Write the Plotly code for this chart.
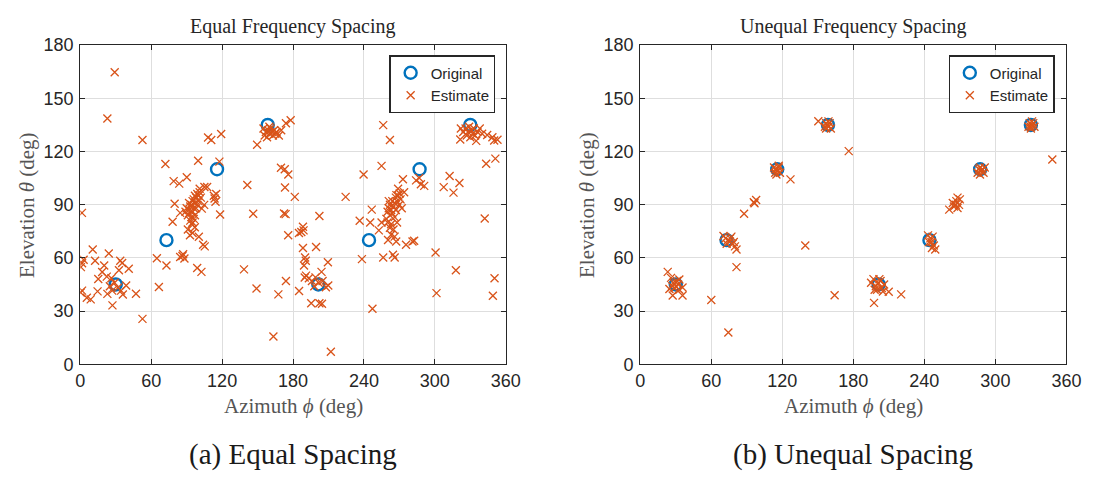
import plotly.graph_objects as go

# True source directions (same set for both spacings)
src_az = [30, 72.9, 115.7, 158.6, 201.4, 244.3, 287.1, 330]
src_el = [45, 70, 110, 135, 45, 70, 110, 135]

# Estimated directions, equal frequency spacing
eq_pts = [
    (1.4, 85.4), (10.5, 64.7), (2.8, 58.9), (0.5, 54.8), (1.5, 57.0), (12.5, 58.4), (24.1, 62.5),
    (20.2, 55.7), (33.8, 58.4), (35.4, 57.1), (41.0, 53.9), (32.7, 53.0), (15.2, 48.1), (22.4, 49.4),
    (26.3, 48.5), (0.3, 40.4), (1.5, 41.5), (5.5, 37.5), (8.8, 36.6), (14.6, 41.1), (22.9, 39.7),
    (27.2, 33.2), (31.8, 43.1), (36.0, 39.3), (38.8, 44.4), (34.5, 41.5), (29, 46), (47.1, 39.8),
    (52.6, 25.6), (18.5, 52), (27, 41.5), (25, 44),
    (29.1, 164.7), (22.9, 138.6), (52.6, 126.5),
    (64.8, 59.8), (66.5, 43.6), (72.9, 55.7), (72.0, 113.0), (78.1, 80.4), (79.8, 90.5), (84.5, 85.4),
    (86.4, 61.1), (88.1, 59.6), (84.5, 60.5), (87, 62), (79.0, 103.3), (83.7, 101.9), (90.1, 105.5),
    (99.7, 114.8), (108.1, 127.9), (110.8, 126.5), (119.2, 129.9), (117.7, 114.3), (118.3, 84.5),
    (114.4, 91.7), (113.6, 93.5), (104.8, 89.9), (98.9, 54.3), (102.5, 52.1), (103.9, 67.4),
    (105.3, 66.5), (100.3, 71.9), (92.8, 72.8), (96.9, 77.3), (94.2, 79.1), (95.0, 80.0), (92.2, 85.4),
    (113, 95), (115, 96), (105, 100), (101, 99), (97, 95), (107.3, 100), (102.8, 87.8),
    (89, 86), (90, 88), (91, 84), (92, 87), (93, 89), (94, 90), (95, 92), (96, 93), (97, 91), (98, 94),
    (99, 96), (100, 95), (96, 88), (95, 86), (94, 83), (93, 81), (97, 84), (98, 88), (99, 90),
    (100, 92), (101, 97), (102, 94), (91, 76), (95, 74), (96, 82), (92, 91),
    (141.3, 101.1), (146.3, 84.9), (138.5, 53.5), (149.6, 123.8), (149.1, 42.7), (167.6, 39.4),
    (163.4, 15.6), (169.8, 110.8), (173.0, 110.0), (176.0, 107.0), (173.2, 99.7), (172.4, 85.0),
    (173.7, 84.7), (175.9, 72.8), (174.0, 47.0), (181.5, 94.4), (174.0, 135.9), (178.0, 137.6),
    (155, 133), (157, 131), (159, 132), (160, 130), (161, 133), (162, 131), (163, 129), (164, 132),
    (165, 130), (166, 131), (168, 129), (158, 128), (160, 134), (170, 132), (156, 129),
    (188.4, 77.6), (188.9, 75.5), (187, 74.6), (185, 74), (188.4, 65.6), (199.5, 66.1), (190.2, 60.2),
    (190.8, 58.4), (189.3, 55.7), (209.5, 57.5), (202.3, 83.6), (193.4, 48.5), (189.9, 48.9),
    (204.1, 52.1), (207.8, 43.4), (209.8, 44.4), (201.7, 46.0), (185.1, 41.3), (195.4, 34.4),
    (202.3, 34.4), (204.5, 34.1), (212.0, 7.0), (224.5, 94.4), (191, 50), (196, 47), (198, 44),
    (205, 47), (199, 49),
    (236.4, 80.9), (245.3, 80.0), (246.6, 87.2), (254.9, 80.0), (238.3, 59.3), (256.3, 60.2),
    (264.6, 61.8), (266.0, 60.2), (260.4, 70.1), (267.3, 69.2), (275.6, 67.4), (281.1, 69.2),
    (282.5, 69.7), (252.6, 75.5), (247.2, 31.3), (239.7, 107.0), (254.9, 111.9), (256.3, 134.9),
    (262.0, 126.5), (273.0, 104.4), (268.9, 99.0), (267.5, 95.4), (270.2, 96.3), (286.8, 105.1),
    (288.2, 101.5), (291.0, 100.6), (284.1, 103.7), (300.6, 63.0), (301.4, 40.1),
    (259, 82), (260, 86), (261, 88), (262, 84), (262, 90), (263, 87), (263, 79), (264, 92), (264, 85),
    (265, 89), (265, 76), (266, 91), (266, 83), (267, 94), (267, 87), (268, 92), (268, 80), (269, 95),
    (270, 90), (271, 93), (262, 77), (260, 80), (272, 88), (274, 97), (261, 92), (263, 73), (266, 72),
    (312.5, 106.2), (320.8, 102.2), (315.8, 96.8), (307.5, 99.9), (317.8, 53.0), (342.2, 82.2),
    (350.5, 48.5), (349.1, 38.6), (343.4, 113.1), (351.2, 116.0), (321.5, 126.8),
    (344.3, 129.3), (348.7, 128.0), (350.2, 126.2), (353.0, 126.6),
    (322, 133), (324, 131), (326, 133), (328, 131), (329, 134), (331, 132), (332, 130), (333, 133),
    (334, 129), (336, 131), (338, 133), (330, 128), (335, 126), (327, 129), (340, 130),
]
eq_az = [p[0] for p in eq_pts]
eq_el = [p[1] for p in eq_pts]

# Estimated directions, unequal frequency spacing
uneq_pts = [
    (23.2, 52.1), (26.0, 48.7), (27.4, 38.8), (35.7, 38.8), (35.7, 43.3), (33.0, 47.8), (24.6, 42.4),
    (28, 46), (30, 44), (32, 45), (29, 43), (31, 47), (27, 44), (33, 42),
    (70.3, 72.3), (80.0, 66.5), (81.3, 64.7), (75.8, 69.2), (72, 71), (74, 70), (76, 71), (78, 68),
    (73, 68), (77, 72), (79, 69), (81.3, 54.8), (74.4, 17.9), (60.0, 36.2),
    (87.7, 84.9), (96.5, 90.8), (97.9, 92.6), (95.9, 91.4),
    (113, 111), (114, 108), (115, 110), (116, 109), (117, 111), (118, 108), (115, 107), (117, 112),
    (114, 110), (126.9, 104.3),
    (139.4, 67.0),
    (150.4, 137.1), (156, 134), (157, 136), (158, 135), (159, 134), (160, 136), (161, 133), (157, 133),
    (159, 137),
    (164.2, 38.9), (176.1, 120.2),
    (195, 46), (197, 48), (199, 44), (201, 46), (203, 47), (204, 43), (206, 45), (198, 42), (200, 42),
    (202, 48), (205, 41), (209.9, 40.9), (220.4, 39.4), (197.5, 34.6),
    (243.1, 72.7), (245, 71), (246, 69), (247, 72), (249.2, 64.7), (246.4, 65.6), (248, 67), (244, 69),
    (261.0, 87.2), (265, 89), (266.5, 90), (268.0, 88.1), (269.3, 89.9), (267, 92), (268, 94), (270, 93),
    (264, 91),
    (285, 108), (286, 110), (287, 111), (288, 109), (289, 110), (290, 108), (287, 107), (291, 111),
    (328, 134), (329, 136), (330, 134), (331, 135), (332, 136), (330, 133), (331, 137), (333, 134),
    (348.1, 115.5),
]
uneq_az = [p[0] for p in uneq_pts]
uneq_el = [p[1] for p in uneq_pts]

az_ticks = [0, 60, 120, 180, 240, 300, 360]
el_ticks = [0, 30, 60, 90, 120, 150, 180]

BLUE = "#0072BD"
ORANGE = "#D95319"
W, H = 1103, 478

fig = go.Figure()


def add_panel(xa, ya, est_az, est_el, legend_name):
    fig.add_trace(go.Scatter(
        x=src_az, y=src_el, mode="markers", name="Original",
        xaxis=xa, yaxis=ya, legend=legend_name,
        marker=dict(symbol="circle-open", size=12, color=BLUE, line=dict(width=2.4, color=BLUE)),
    ))
    fig.add_trace(go.Scatter(
        x=est_az, y=est_el, mode="markers", name="Estimate",
        xaxis=xa, yaxis=ya, legend=legend_name,
        marker=dict(symbol="x-thin-open", size=8, color=ORANGE, line=dict(width=1.3, color=ORANGE)),
    ))


add_panel("x", "y", eq_az, eq_el, "legend")
add_panel("x2", "y2", uneq_az, uneq_el, "legend2")

# Plot-area placement in pixels
left_px = [(76.7, 510.0), (647.0, 1081.0)]
top_px, bot_px = 36.7, 369.7

axis_common = dict(
    showline=True, linecolor="#262626", linewidth=1.2, mirror="ticks",
    ticks="inside", ticklen=5, tickwidth=1, tickcolor="#262626",
    showgrid=True, gridcolor="#dedede", gridwidth=1, zeroline=False,
    tickfont=dict(family="Liberation Sans, Arial", size=18, color="#262626"),
)

layout_axes = {}
for i, (l, r) in enumerate(left_px):
    sfx = "" if i == 0 else str(i + 1)
    layout_axes["xaxis" + sfx] = dict(
        axis_common, domain=[l / W, r / W], range=[0, 360], tickvals=az_ticks,
        anchor="y" + sfx,
    )
    layout_axes["yaxis" + sfx] = dict(
        axis_common, domain=[1 - bot_px / H, 1 - top_px / H], range=[0, 180], tickvals=el_ticks,
        anchor="x" + sfx, ticklabelstandoff=2,
    )

legend_common = dict(
    bgcolor="white", bordercolor="#262626", borderwidth=1.2,
    font=dict(family="Liberation Sans, Arial", size=15, color="#262626"),
    xanchor="right", yanchor="top", tracegroupgap=0, itemwidth=30,
)

fig.update_layout(
    width=W, height=H, margin=dict(l=0, r=0, t=0, b=0),
    paper_bgcolor="white", plot_bgcolor="white",
    showlegend=True,
    legend=dict(legend_common, x=499.5 / W, y=1 - 47.3 / H),
    legend2=dict(legend_common, x=1069 / W, y=1 - 47.3 / H),
    **layout_axes,
)

serif = "Liberation Serif, Times New Roman, serif"
titles = ["Equal Frequency Spacing", "Unequal Frequency Spacing"]
captions = ["(a) Equal Spacing", "(b) Unequal Spacing"]


def label(x_px, y_px, text, size, color, angle=0):
    fig.add_annotation(x=x_px / W, y=1 - y_px / H, xref="paper", yref="paper", text=text,
                       xanchor="center", yanchor="middle", textangle=angle, showarrow=False,
                       font=dict(family=serif, size=size, color=color))


for i, (l, r) in enumerate(left_px):
    cx = (l + r) / 2
    label(cx, 17, titles[i], 20, "#262626")
    label(cx, 413, "Azimuth <i>ϕ</i> (deg)", 21, "#555555")
    label(l - 55, (top_px + bot_px) / 2, "Elevation <i>θ</i> (deg)", 21, "#555555", -90)
    label(cx, 464, captions[i], 29, "#1a1a1a")

fig.write_html("out.html")
